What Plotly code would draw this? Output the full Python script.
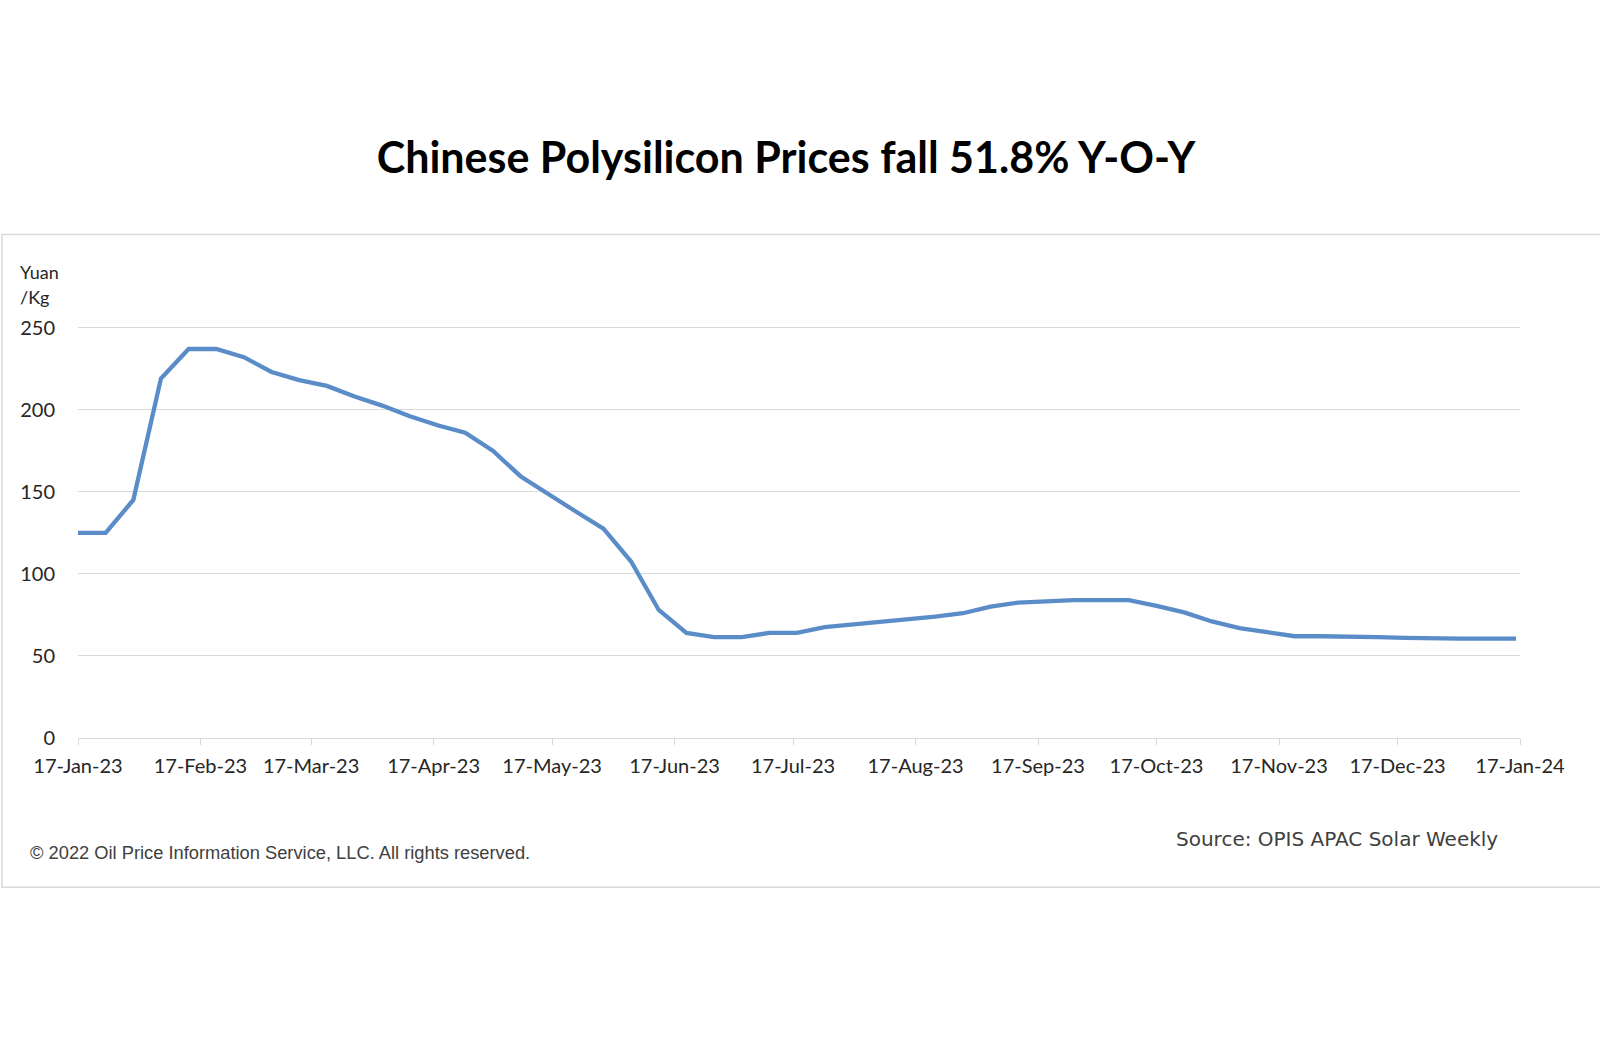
import plotly.graph_objects as go

# weekly price assessments, yuan/kg
dates = [
    "2023-01-17", "2023-01-24", "2023-01-31", "2023-02-07", "2023-02-14", "2023-02-21",
    "2023-02-28", "2023-03-07", "2023-03-14", "2023-03-21", "2023-03-28", "2023-04-04",
    "2023-04-11", "2023-04-18", "2023-04-25", "2023-05-02", "2023-05-09", "2023-05-16",
    "2023-05-23", "2023-05-30", "2023-06-06", "2023-06-13", "2023-06-20", "2023-06-27",
    "2023-07-04", "2023-07-11", "2023-07-18", "2023-07-25", "2023-08-01", "2023-08-08",
    "2023-08-15", "2023-08-22", "2023-08-29", "2023-09-05", "2023-09-12", "2023-09-19",
    "2023-09-26", "2023-10-03", "2023-10-10", "2023-10-17", "2023-10-24", "2023-10-31",
    "2023-11-07", "2023-11-14", "2023-11-21", "2023-11-28", "2023-12-05", "2023-12-12",
    "2023-12-19", "2023-12-26", "2024-01-02", "2024-01-09", "2024-01-16",
]
prices = [
    125, 125, 145, 219, 237, 237,
    232, 223, 218, 214.5, 208, 202.5,
    196, 190.5, 186, 175, 159.5, 148.5,
    138, 127.5, 107.5, 78, 64, 61.5,
    61.5, 64, 64, 67.5, 69, 70.5,
    72.5, 74, 76, 80, 82.5, 83.5,
    84, 84, 84, 80.5, 76.5, 71,
    67, 64.5, 62, 62, 62, 61.5,
    61, 60.5, 60.5, 60.5, 60.5,
]

tick_dates = [
    "2023-01-17", "2023-02-17", "2023-03-17", "2023-04-17", "2023-05-17", "2023-06-17",
    "2023-07-17", "2023-08-17", "2023-09-17", "2023-10-17", "2023-11-17", "2023-12-17",
    "2024-01-17",
]
tick_labels = [
    "17-Jan-23", "17-Feb-23", "17-Mar-23", "17-Apr-23", "17-May-23", "17-Jun-23",
    "17-Jul-23", "17-Aug-23", "17-Sep-23", "17-Oct-23", "17-Nov-23", "17-Dec-23",
    "17-Jan-24",
]
y_ticks = [0, 50, 100, 150, 200, 250]

W, H = 1600, 1060
L, R = 78, 1520
T, B = 326.4, 738   # y range goes to 251 so the 250 grid line shows


def px(x):
    return (x - L) / (R - L)


def py(y):
    return (B - y) / (B - T)


fig = go.Figure()
fig.add_trace(go.Scatter(
    x=dates,
    y=prices,
    mode="lines",
    line=dict(color="#5A8DC8", width=4.3),
    hoverinfo="x+y",
    showlegend=False
))

fig.update_layout(
    width=W,
    height=H,
    margin=dict(l=L, r=W - R, t=T, b=H - B, pad=0),
    paper_bgcolor="white",
    plot_bgcolor="white",
    font=dict(family="Lato", color="#262626"),
    title=dict(
        text="<b>Chinese Polysilicon Prices fall 51.8% Y-O-Y</b>",
        x=786 / W,
        xanchor="center",
        y=1 - 158 / H,
        yanchor="middle",
        font=dict(family="Lato", size=43, color="#000000")
    ),
    xaxis=dict(
        type="date",
        range=["2023-01-17", "2024-01-17"],
        tickvals=tick_dates,
        ticktext=tick_labels,
        tickfont=dict(size=20, color="#262626"),
        showgrid=False,
        showline=True,
        linecolor="#d9d9d9",
        linewidth=1,
        ticks="outside",
        ticklen=6,
        tickcolor="#d9d9d9",
        ticklabelstandoff=4,
        zeroline=False
    ),
    yaxis=dict(
        range=[0, 251],
        tickvals=y_ticks,
        tickfont=dict(size=20, color="#262626"),
        showgrid=True,
        gridcolor="#d9d9d9",
        gridwidth=1,
        showline=False,
        zeroline=False,
        ticklabelstandoff=22
    ),
    shapes=[
        dict(type="rect", xref="paper", yref="paper",
             x0=px(2), x1=px(1610), y0=py(887), y1=py(235),
             line=dict(color="#d9d9d9", width=1.5), layer="below")
    ],
    annotations=[
        dict(text="Yuan", xref="paper", yref="paper",
             x=px(18), y=py(272), xanchor="left", yanchor="middle",
             showarrow=False, font=dict(family="Lato", size=18, color="#262626")),
        dict(text="/Kg", xref="paper", yref="paper",
             x=px(18), y=py(297), xanchor="left", yanchor="middle",
             showarrow=False, font=dict(family="Lato", size=18, color="#262626")),
        dict(text="\u00a9 2022 Oil Price Information Service, LLC. All rights reserved.",
             xref="paper", yref="paper", x=px(28), y=py(852),
             xanchor="left", yanchor="middle", showarrow=False,
             font=dict(family="Liberation Sans", size=18.3, color="#404040")),
        dict(text="Source: OPIS APAC Solar Weekly",
             xref="paper", yref="paper", x=px(1500), y=py(839),
             xanchor="right", yanchor="middle", showarrow=False,
             font=dict(family="DejaVu Sans", size=20, color="#404040")),
    ]
)

# drop the page's default body margin so the figure sits at 0,0
fig.write_html("out.html", config={"displayModeBar": False},
               post_script="document.body.style.margin = '0px';")
